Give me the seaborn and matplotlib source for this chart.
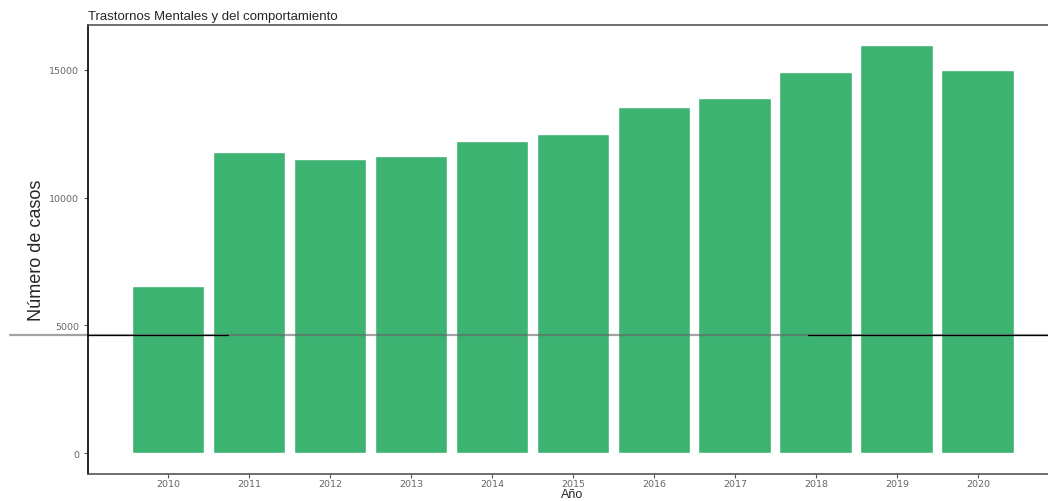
import pandas as pd
import seaborn as sns
from matplotlib import pyplot as plt

years = ["2010", "2011", "2012", "2013", "2014", "2015",
         "2016", "2017", "2018", "2019", "2020"]
casos = [6560, 11780, 11510, 11620, 12200, 12510,
         13550, 13900, 14900, 15980, 14980]
y_ticks = [0, 5000, 10000, 15000]
ref_line = 4630

df = pd.DataFrame({"Año": years, "casos": casos})

sns.set_style("white")

fig = plt.figure(figsize=(10.48, 5.02), dpi=100)
ax = fig.add_axes([0.084, 0.0538, 0.9256, 0.8944])

sns.barplot(data=df, x="Año", y="casos", color="#3CB371", width=0.9,
            saturation=1, ax=ax)

ax.set_xlim(-0.988, 10.99)
ax.set_ylim(-811, 16757)
ax.set_yticks(y_ticks)
ax.set_yticklabels([str(v) for v in y_ticks])

ax.tick_params(axis="both", colors="#555555", labelcolor="#666666",
               labelsize=6.8, length=3, width=0.8, direction="out",
               bottom=True, left=True)
ax.tick_params(axis="x", pad=0.8)

for side in ["top", "right", "bottom"]:
    ax.spines[side].set_color("#555555")
    ax.spines[side].set_linewidth(1.2)
ax.spines["left"].set_color("black")
ax.spines["left"].set_linewidth(1.2)

# stray horizontal line across the figure
ax.axhline(ref_line, xmin=-0.08, xmax=0.99, color="#666666", alpha=0.6,
           lw=1.6, clip_on=False)
ax.axhline(ref_line, xmin=0.0, xmax=0.144, color="black", lw=0.9, clip_on=False)
ax.axhline(ref_line, xmin=0.742, xmax=1.0, color="black", lw=0.9, clip_on=False)

ax.set_ylabel("Número de casos", fontsize=13,
              family=["Liberation Sans", "DejaVu Sans"], labelpad=3)
ax.set_xlabel("Año", fontsize=9, family=["Liberation Sans", "DejaVu Sans"])
ax.xaxis.label.set_va("bottom")
ax.xaxis.set_label_coords(0.499, -26.2 / 449)
ax.set_title("Trastornos Mentales y del comportamiento", loc="left",
             fontsize=9.5, family=["Liberation Sans", "DejaVu Sans"], pad=4)

fig.savefig("out.png", dpi=100)
